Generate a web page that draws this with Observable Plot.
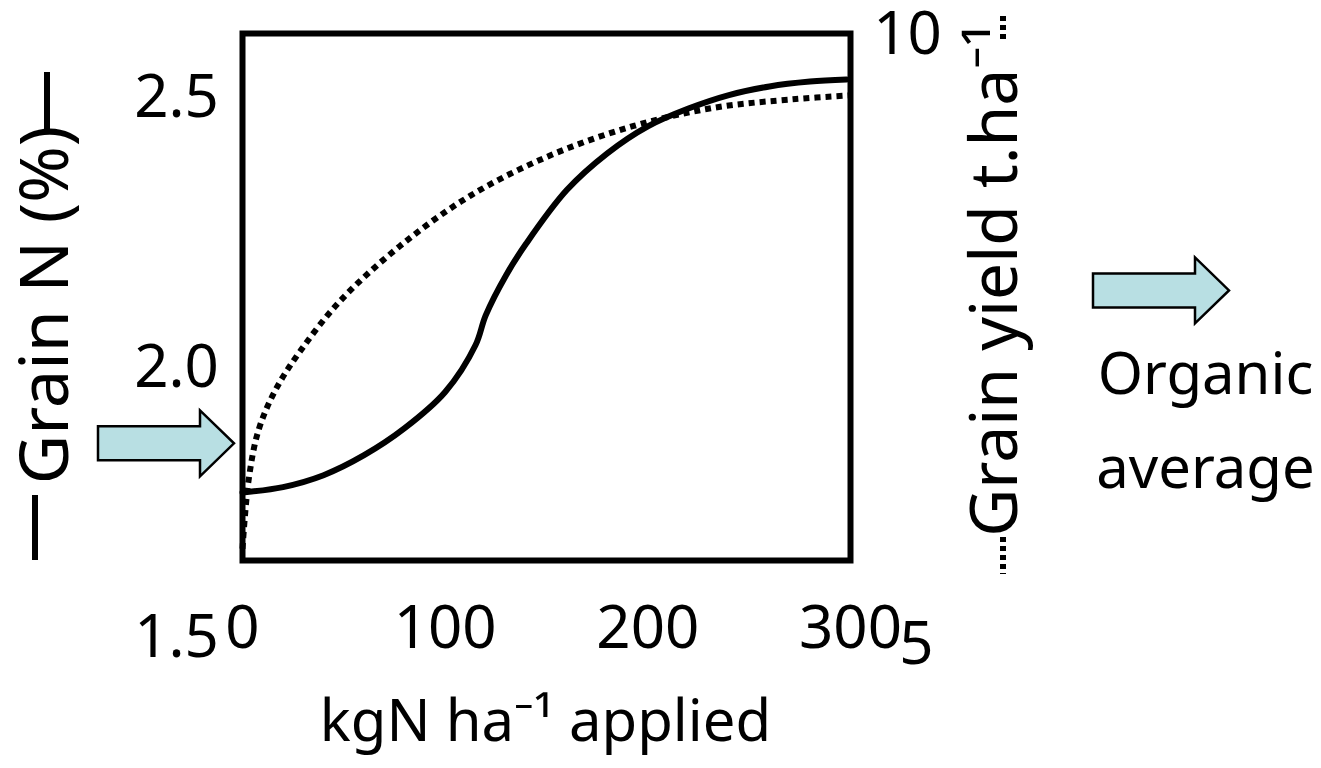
<!DOCTYPE html>
<html>
<head>
<meta charset="utf-8">
<script src="https://cdn.jsdelivr.net/npm/d3@7"></script>
<script src="https://cdn.jsdelivr.net/npm/@observablehq/plot@0.6"></script>
<style>
  html, body { margin: 0; padding: 0; background: #fff; overflow: hidden; }
  #chart svg { display: block; }
</style>
</head>
<body>
<div id="chart"></div>
<script>
// ---- data ----
// Grain N (%) response (solid line)
const nApplied = [0, 20, 40, 60, 80, 100, 115, 120, 130, 140, 160, 180, 200, 220, 240, 260, 280, 298];
const grainN   = [1.770, 1.780, 1.802, 1.839, 1.889, 1.956, 2.043, 2.098, 2.172, 2.231, 2.330, 2.398, 2.448, 2.481, 2.506, 2.522, 2.531, 2.535];
// Grain yield (t/ha) response (dotted line)
const yieldApplied = [0, 3, 7.9, 16.3, 28.6, 48.3, 77.9, 112.5, 152, 193, 233, 273, 300];
const grainYield   = [5.79, 6.35, 6.76, 7.09, 7.41, 7.82, 8.27, 8.68, 9.01, 9.25, 9.40, 9.47, 9.50];
// tick labels
const xTicks = [0, 100, 200, 300];
const nTicks = [1.5, 2.0, 2.5];
const nTickLabels = ["1.5", "2.0", "2.5"];
const yieldTop = 10, yieldBottom = 5;
// organic averages (arrows)
const organicN = 1.86;
const organicYield = 7.9;
// secondary (yield) axis expressed on the Grain N scale
const yieldAxisLow = 5, yieldAxisLowN = 1.487;
const yieldAxisHigh = 10, yieldAxisHighN = 2.6185;
const toN = (t) => yieldAxisLowN + (t - yieldAxisLow) * (yieldAxisHighN - yieldAxisLowN) / (yieldAxisHigh - yieldAxisLow);

const FONT = "'Comic Sans MS', 'Noto Sans', sans-serif";

const nData = nApplied.map((x, i) => ({x, v: grainN[i]}));
const yData = yieldApplied.map((x, i) => ({x, v: toN(grainYield[i])}));

function blockArrow(tx, ty) {
  const L = 136, sh = 17, hh = 33, hl = 34;
  return `M${tx - L},${ty - sh}L${tx - hl},${ty - sh}L${tx - hl},${ty - hh}L${tx},${ty}` +
         `L${tx - hl},${ty + hh}L${tx - hl},${ty + sh}L${tx - L},${ty + sh}Z`;
}

const annotations = (index, scales, values, dims) => {
  const x = scales.x, y = scales.y;
  const top = dims.marginTop, bottom = dims.height - dims.marginBottom;
  const g = d3.create("svg:g");
  const arrows = [[x(0) - 8, y(organicN)], [x(300) + 379, y(toN(organicYield))]];
  g.selectAll("path.arrow").data(arrows).join("path")
    .attr("class", "arrow")
    .attr("d", d => blockArrow(d[0], d[1]))
    .attr("fill", "#b8dfe3")
    .attr("stroke", "black")
    .attr("stroke-width", 2.5);
  // legend samples next to axis titles
  const solid = [[x(0) - 207, bottom - 65, bottom], [x(0) - 195, top + 39, top + 96]];
  g.selectAll("line.solid").data(solid).join("line")
    .attr("class", "solid")
    .attr("x1", d => d[0]).attr("x2", d => d[0])
    .attr("y1", d => d[1]).attr("y2", d => d[2])
    .attr("stroke", "black").attr("stroke-width", 6);
  const dotted = [[x(300) + 153, bottom - 23, bottom + 14], [x(300) + 153, top - 17, top + 10]];
  g.selectAll("line.dot").data(dotted).join("line")
    .attr("class", "dot")
    .attr("x1", d => d[0]).attr("x2", d => d[0])
    .attr("y1", d => d[1]).attr("y2", d => d[2])
    .attr("stroke", "black").attr("stroke-width", 6)
    .attr("stroke-dasharray", "5,4");
  return g.node();
};

const chart = Plot.plot({
  width: 1321,
  height: 768,
  marginLeft: 242,
  marginRight: 471,
  marginTop: 33,
  marginBottom: 208,
  style: {fontFamily: FONT, background: "white", color: "black"},
  x: {domain: [0, 300], axis: null},
  y: {domain: [1.644, 2.620], axis: null},
  marks: [
    Plot.line(yData, {x: "x", y: "v", stroke: "black", strokeWidth: 6, strokeDasharray: "6,5", strokeLinecap: "butt", strokeLinejoin: "miter", curve: "catmull-rom"}),
    Plot.line(nData, {x: "x", y: "v", stroke: "black", strokeWidth: 6, curve: "catmull-rom"}),
    Plot.frame({stroke: "black", strokeWidth: 6}),
    // x tick labels
    Plot.text(xTicks, {x: d => d, text: d => String(d), frameAnchor: "bottom", dy: 68, fontSize: 60, lineAnchor: "middle", textAnchor: "middle", fill: "black"}),
    // left (Grain N) tick labels
    Plot.text(nTicks, {x: () => 0, y: d => d, text: (d, i) => nTickLabels[i], dx: -66, fontSize: 60, lineAnchor: "middle", textAnchor: "middle", fill: "black"}),
    // right (yield) tick labels
    Plot.text([yieldTop], {x: () => 300, y: d => toN(d), text: d => String(d), dx: 57, fontSize: 60, lineAnchor: "middle", textAnchor: "middle", fill: "black"}),
    Plot.text([yieldBottom], {x: () => 300, y: d => toN(d), text: d => String(d), dx: 66, fontSize: 60, lineAnchor: "middle", textAnchor: "middle", fill: "black"}),
    // axis titles
    Plot.text(["Grain N (%)"], {frameAnchor: "left", text: d => d, rotate: -90, dx: -196, dy: 8, fontSize: 68, lineAnchor: "middle", textAnchor: "middle", fill: "black"}),
    Plot.text(["Grain yield t.ha⁻¹"], {frameAnchor: "right", text: d => d, rotate: -90, dx: 145, dy: -17, fontSize: 66, lineAnchor: "middle", textAnchor: "middle", fill: "black"}),
    Plot.text(["kgN ha⁻¹ applied"], {frameAnchor: "bottom", text: d => d, dx: -1, dy: 162, fontSize: 58, lineAnchor: "middle", textAnchor: "middle", fill: "black"}),
    Plot.text(["Organic\naverage"], {frameAnchor: "right", text: d => d, dx: 355, dy: 114, fontSize: 58, lineAnchor: "middle", textAnchor: "middle", lineHeight: 1.62, fill: "black"}),
    annotations
  ]
});
document.getElementById("chart").appendChild(chart);
</script>
</body>
</html>
